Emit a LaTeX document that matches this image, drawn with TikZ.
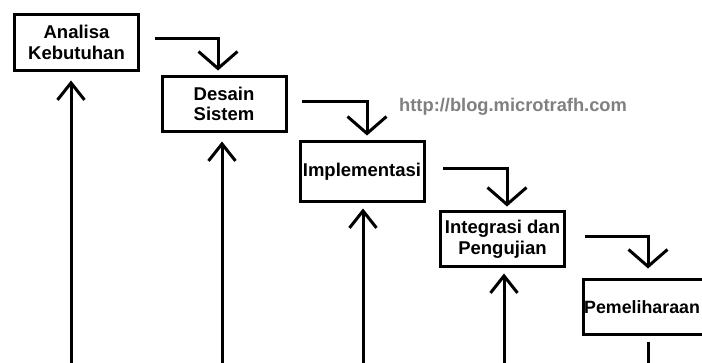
\documentclass[tikz,border=0pt]{standalone}
\usepackage{fontspec}
\setmainfont{Liberation Sans}
\usetikzlibrary{arrows.meta,calc}
\definecolor{wmgray}{RGB}{128,128,128}
\begin{document}
\begin{tikzpicture}[x=1pt,y=-1pt,
  box/.style={draw,line width=3pt,minimum width=124pt,minimum height=55pt,inner sep=1pt,align=center,
    font=\bfseries\fontsize{18.5}{20.5}\selectfont},
  boxlabel/.style={inner sep=0pt,font=\bfseries\fontsize{17.8}{20.5}\selectfont},
  conn/.style={line width=3pt,-{Straight Barb[length=17pt,width=39pt]}},
  uparr/.style={line width=3pt,-{Straight Barb[length=17pt,width=27pt]}},
  plainline/.style={line width=3pt},
  wm/.style={inner sep=0pt,text=wmgray,font=\bfseries\fontsize{18.3}{20}\selectfont}]
\clip (0,0) rectangle (702,363);
\fill[white] (0,0) rectangle (702,363);
% boxes
\node[box,minimum height=56pt] (b1) at (76.5,42.5) {Analisa\\Kebutuhan};
\node[box] (b2) at (224,104) {Desain\\Sistem};
\node[box,minimum height=60pt] (b3) at (362,171.5) {Implementasi};
\node[box] (b4) at (502.5,239.5) {Integrasi dan\\Pengujian};
\node[box] (b5) at (645.5,307) {};
\node[boxlabel,anchor=west] (t5) at ($(b5.west)+(2,0)$) {Pemeliharaan};
% watermark
\node[wm,anchor=base west] (url) at (399,112) {http://blog.microtrafh.com};
% down connectors
\draw[conn] ($(b1.east)+(14.5,-4)$) -| ($(b2.north)+(-6,-4.5)$);
\draw[conn] ($(b2.east)+(14,-2)$) -| ($(b3.north)+(5,-4.5)$);
\draw[conn] ($(b3.east)+(17.5,-2.5)$) -| ($(b4.north)+(4.5,-4)$);
\draw[conn] ($(b4.east)+(18.5,-2.5)$) -| ($(b5.north)+(2.5,-9.5)$);
% free ends at bottom
\coordinate (s1) at (71,380);
\coordinate (s2) at (222,380);
\coordinate (s3) at (363,380);
\coordinate (s4) at (504,380);
\coordinate (e5) at (648,380);
% up arrows
\draw[uparr] (s1) -- ($(s1 |- b1.south)+(0,8.5)$);
\draw[uparr] (s2) -- ($(s2 |- b2.south)+(0,8.5)$);
\draw[uparr] (s3) -- ($(s3 |- b3.south)+(0,5.5)$);
\draw[uparr] (s4) -- ($(s4 |- b4.south)+(0,5)$);
% line from last box
\draw[plainline] ($(e5 |- b5.south)+(0,6)$) -- (e5);
\end{tikzpicture}
\end{document}
